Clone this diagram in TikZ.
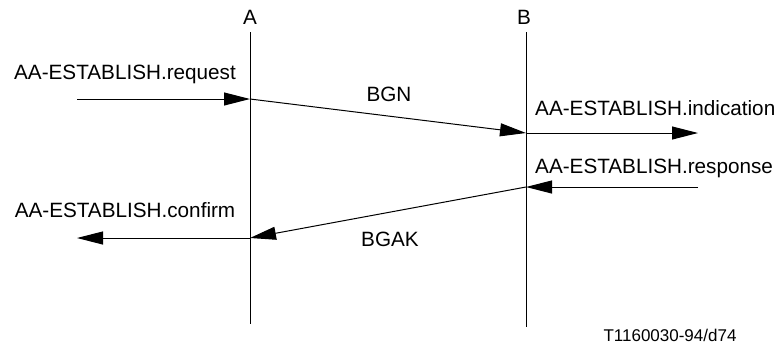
\documentclass[tikz,border=0pt]{standalone}
\usepackage{fontspec}
\setmainfont{Liberation Sans}
\usetikzlibrary{arrows.meta,positioning}

\begin{document}
\begin{tikzpicture}[x=1pt,y=-1pt,
  lbl/.style={inner sep=0pt,anchor=base,font=\fontsize{20.7}{24}\selectfont},
  msg/.style={-{Triangle[length=26pt,width=13pt]},line width=1pt}]
  \useasboundingbox (0,0) rectangle (780,349);
  \def\xa{250}
  \def\xb{526}

  % lifelines
  \coordinate (Atop) at (\xa,32);
  \coordinate (Abot) at (\xa,324);
  \coordinate (Btop) at (\xb,32);
  \coordinate (Bbot) at (\xb,327);
  \draw[line width=1pt] (Atop) -- (Abot);
  \draw[line width=1pt] (Btop) -- (Bbot);
  \node[lbl] (labA) at (\xa,24.5) {A};
  \node[lbl] (labB) at (\xb-2,24.5) {B};

  % points on the lifelines
  \coordinate (a1) at (\xa,99);
  \coordinate (b1) at (\xb,133);
  \coordinate (b2) at (\xb,187);
  \coordinate (a2) at (\xa,238);
  \coordinate (reqin) at (77,99);
  \coordinate (indout) at (698,133);
  \coordinate (resin) at (698,187);
  \coordinate (cnfout) at (77,238);

  \draw[msg] (reqin) -- (a1);
  \draw[msg] (a1) -- (b1);
  \draw[msg] (b1) -- (indout);
  \draw[msg] (resin) -- (b2);
  \draw[msg] (b2) -- (a2);
  \draw[msg] (a2) -- (cnfout);

  \node[lbl] (req) at (125,79.5) {AA-ESTABLISH.request};
  \node[lbl] (bgn) at (389,101.5) {BGN};
  \node[lbl,anchor=base west] (ind) at (535,115.5) {AA-ESTABLISH.indication};
  \node[lbl,anchor=base west] (res) at (535,173) {AA-ESTABLISH.response};
  \node[lbl] (cnf) at (125,217.5) {AA-ESTABLISH.confirm};
  \node[lbl] (bgak) at (390,246) {BGAK};
  \node[lbl,font=\fontsize{17}{20}\selectfont] (ref) at (670,341) {T1160030-94/d74};
\end{tikzpicture}
\end{document}
